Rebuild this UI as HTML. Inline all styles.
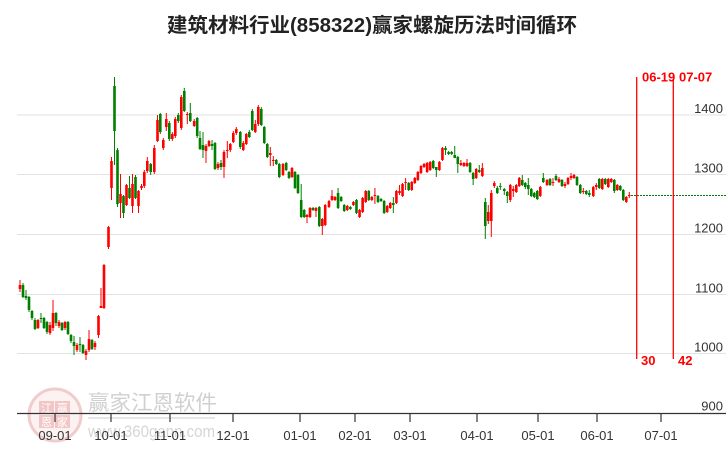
<!DOCTYPE html>
<html><head><meta charset="utf-8">
<style>
html,body{margin:0;padding:0;background:#fff;}
svg{display:block;}
text{font-family:"Liberation Sans","Noto Sans CJK SC",sans-serif;}
</style></head>
<body>
<svg id="c" width="726" height="450" viewBox="0 0 726 450" xmlns="http://www.w3.org/2000/svg">
<!-- watermark -->
<g>
<circle cx="55" cy="415" r="26" fill="#fdf2f2" stroke="#f0cccc" stroke-width="3"/>
<rect x="39" y="401" width="15" height="13" fill="#f2c6c6"/>
<rect x="55" y="401" width="15" height="13" fill="#f2c6c6"/>
<rect x="39" y="415" width="15" height="13" fill="#f2c6c6"/>
<rect x="55" y="415" width="15" height="13" fill="#f2c6c6"/>
<text x="46.5" y="412" font-size="11" fill="#fff" text-anchor="middle" style="font-family:'Noto Sans CJK SC',sans-serif">江</text>
<text x="62.5" y="412" font-size="11" fill="#fff" text-anchor="middle" style="font-family:'Noto Sans CJK SC',sans-serif">赢</text>
<text x="46.5" y="426" font-size="11" fill="#fff" text-anchor="middle" style="font-family:'Noto Sans CJK SC',sans-serif">恩</text>
<text x="62.5" y="426" font-size="11" fill="#fff" text-anchor="middle" style="font-family:'Noto Sans CJK SC',sans-serif">家</text>
<text x="88" y="410" font-size="21" fill="#d0d0d0" textLength="129" lengthAdjust="spacingAndGlyphs">赢家江恩软件</text>
<rect x="88" y="417" width="127" height="2" fill="#e6e6e6"/>
<text x="88" y="437" font-size="17" fill="#d6d6d6" textLength="127" lengthAdjust="spacingAndGlyphs">www.360gann.com</text>
</g>
<!-- grid -->
<g stroke="#e2e2e2" stroke-width="1">
<line x1="17" y1="115" x2="726" y2="115"/>
<line x1="17" y1="174.5" x2="726" y2="174.5"/>
<line x1="17" y1="234.5" x2="726" y2="234.5"/>
<line x1="17" y1="294.5" x2="726" y2="294.5"/>
<line x1="17" y1="353.5" x2="726" y2="353.5"/>
</g>
<!-- axis -->
<line x1="17" y1="413.5" x2="726" y2="413.5" stroke="#333" stroke-width="1.2"/>
<g stroke="#333" stroke-width="1.2">
<line x1="55" y1="413" x2="55" y2="422"/>
<line x1="111" y1="413" x2="111" y2="422"/>
<line x1="170" y1="413" x2="170" y2="422"/>
<line x1="233" y1="413" x2="233" y2="422"/>
<line x1="300" y1="413" x2="300" y2="422"/>
<line x1="355" y1="413" x2="355" y2="422"/>
<line x1="410" y1="413" x2="410" y2="422"/>
<line x1="477" y1="413" x2="477" y2="422"/>
<line x1="538" y1="413" x2="538" y2="422"/>
<line x1="597" y1="413" x2="597" y2="422"/>
<line x1="661" y1="413" x2="661" y2="422"/>
</g>
<g font-size="13" fill="#333" text-anchor="middle">
<text x="55" y="440">09-01</text>
<text x="111" y="440">10-01</text>
<text x="170" y="440">11-01</text>
<text x="233" y="440">12-01</text>
<text x="300" y="440">01-01</text>
<text x="355" y="440">02-01</text>
<text x="410" y="440">03-01</text>
<text x="477" y="440">04-01</text>
<text x="538" y="440">05-01</text>
<text x="597" y="440">06-01</text>
<text x="661" y="440">07-01</text>
</g>
<g font-size="13" fill="#333" text-anchor="end">
<text x="723" y="113">1400</text>
<text x="723" y="172.5">1300</text>
<text x="723" y="232.5">1200</text>
<text x="723" y="292.5">1100</text>
<text x="723" y="351.5">1000</text>
<text x="723" y="410.5">900</text>
</g>
<g id="candles"></g>
<!-- dashed last price line -->
<line x1="631" y1="195.5" x2="726" y2="195.5" stroke="#0a7a0a" stroke-width="1" stroke-dasharray="2,1"/>
<!-- red cycle lines -->
<line x1="636.7" y1="77" x2="636.7" y2="359" stroke="#f00" stroke-width="1.3"/>
<line x1="673.3" y1="80" x2="673.3" y2="359" stroke="#f00" stroke-width="1.3"/>
<g font-size="13" font-weight="bold" fill="#f00">
<text x="642" y="81.5">06-19</text>
<text x="679" y="81.5">07-07</text>
<text x="641" y="365">30</text>
<text x="678" y="365">42</text>
</g>
<!-- title -->
<text x="167" y="32" font-size="20" font-weight="bold" fill="#222" textLength="410" lengthAdjust="spacingAndGlyphs">建筑材料行业(858322)赢家螺旋历法时间循环</text>
</svg>
<script>
(function(){
var A = `20 r 285 289 280 292
23 g 285 297 283 298
26 g 296 298 290 300
29 g 297 310 296 312
32 g 311 318 310 320
35 g 320 329 318 330
38 r 320 328 319 329
41 g 318 319 313 323
44 g 318 328 317 329
47 g 322 332 321 334
50 r 325 333 322 335
53 r 313 328 300 331
56 g 313 323 312 326
59 r 322 326 320 328
62 g 323 330 322 331
65 r 322 328 321 330
68 g 322 334 321 335
71 g 335 341 334 343
74 g 342 346 336 355
77 r 345 350 343 352
80 g 344 345 337 352
83 g 345 353 344 354
86 r 351 355 349 360
89 r 339 350 330 352
92 g 340 349 339 350
95 r 343 347 341 350
98.5 r 316 335 315 338
101 r 306 308 288 308
104 r 265 308 264 309
108.5 r 227 247 226 249
111.5 r 161 188 157 200
114.5 g 86 131 77 165
117.5 g 150 204 148 207
120.5 r 194 203 174 218
123.5 g 196 213 195 218
126.5 r 185 205 184 206
129.5 g 188 198 176 199
132.5 r 184 206 174 213
135.5 g 177 198 175 199
138.5 r 191 206 190 213
141.5 r 186 188 184 190
144.3 r 172 186 170 188
147.3 r 161 171 157 173
150.7 g 164 172 163 175
154.3 r 148 172 145 174
157.5 r 120 141 115 142
160.3 g 114 132 113 134
163.3 r 140 148 138 150
166.3 r 119 127 113 131
169.3 g 123 139 121 141
172.3 r 134 139 132 141
175.3 r 119 136 117 138
178.3 g 115 121 113 123
181.3 r 97 128 95 130
184.3 g 91 111 88 112
187.3 r 114 115 112 124
190.3 g 113 121 103 122
194.2 r 121 126 119 127
197.2 g 118 136 117 138
200 g 138 149 131 150
203 g 145 150 132 158
206 r 146 151 144 163
209 r 141 146 140 147
212 g 144 146 140 150
215 g 143 169 142 170
218 r 164 168 162 170
221 g 163 167 160 170
224 r 152 167 150 178
227.3 r 150 151 141 158
230.3 r 144 150 143 152
233.3 r 133 142 131 143
236.3 r 129 133 127 135
240.3 g 132 147 131 149
243.3 r 143 150 141 151
246.3 r 134 144 133 145
249.3 g 132 137 130 138
252.3 g 111 130 109 131
255.3 r 124 132 120 133
258.3 r 107 124 105 126
261.3 g 109 125 107 126
264.3 g 127 143 126 144
267.3 g 144 157 143 158
270.3 r 153 155 147 166
273.3 r 160 161 156 166
276.3 g 160 164 159 165
279.3 g 164 177 163 178
283 r 164 175 163 176
286.2 g 163 170 162 171
289 g 172 178 171 179
292 r 168 177 167 178
295 g 172 188 171 189
298 g 175 193 174 194
301.2 g 200 217 184 218
304.2 g 210 217 209 218
307 r 215 217 214 223
310 r 208 217 207 218
313 g 208 210 207 211
316 r 208 211 207 217
319.3 g 207 226 206 227
322.3 r 219 226 218 235
325.2 r 205 225 204 226
329 r 201 207 200 208
332 r 196 200 190 201`;
var B = `r 197 200
g 193 208 188 209
g 197 201
g 205 211
r 206 210
g 207 209
r 202 205
g 200 213
r 210 217
r 198 212
r 191 202
g 191 200
r 197 200
r 195 196 188 204
g 196 202
g 199 201
g 201 213
r 206 212
r 203 208
g 203 205 197 213
r 191 203
r 191 193 185 195
r 184 196
r 182 183 178 190
g 183 190
r 182 190
r 178 183
r 172 180
r 166 173
r 164 167
r 163 172
r 162 170
g 161 168
g 167 170 167 177
r 162 170
r 148 160
g 148 150 146 155
g 152 154
g 152 154
g 155 158 146 158
g 157 164 156 173
r 163 165 160 166
r 163 166
r 163 166 159 167
g 163 172
g 173 179 172 185
r 169 178
g 170 172 165 173
r 168 176 163 177`;
var C = `485.3 g 202 226 198 239
488.3 r 212 221 205 224
491.3 r 193 221 190 237
494.3 r 183 186 181 188
497.3 g 188 193 186 194
500.3 g 186 187 183 190
504.3 g 189 191 188 195
507.3 g 192 196 191 203
510.3 r 185 200 184 202
513.3 r 189 191 186 197
516.3 r 185 192 184 193
519.3 r 178 186 177 187
522.3 g 180 185 175 186
525.3 g 183 187 182 189
528.3 g 185 189 178 195
531.3 g 189 196
534.3 g 193 197
537.3 g 191 199
540.3 r 187 196
543.3 g 178 182 173 183
547 r 180 185
550 g 179 185
553 r 182 183 178 186
556 g 176 180 174 181
559 r 179 182 177 183
562 g 180 186
565 r 184 186 182 188
568 r 178 184
571 r 176 178 173 180
574 r 175 178 174 179
577 g 177 185
580.3 g 185 193 184 194
583.3 r 191 192 188 194
586.3 g 191 194
589.3 g 193 195 190 197
593.3 r 187 196
596.3 r 185 187 183 190
599.3 g 179 188
602.3 r 179 189
605.3 g 179 184
608.3 r 179 187
611.3 r 179 182
614.3 g 180 191 179 193
617.3 r 185 190
620.3 g 186 190 185 191
623.3 g 190 200 189 201
626.3 r 197 202 196 203
629.3 r 195 196 192 198`;
var rows=[];
function parseX(s){s.trim().split('\n').forEach(function(l){var p=l.trim().split(/\s+/);rows.push([+p[0],p[1],+p[2],+p[3],p[4]!==undefined?+p[4]:null,p[5]!==undefined?+p[5]:null]);});}
parseX(A);
B.trim().split('\n').forEach(function(l,i){var p=l.trim().split(/\s+/);rows.push([335+i*3.07,p[0],+p[1],+p[2],p[3]!==undefined?+p[3]:null,p[4]!==undefined?+p[4]:null]);});
parseX(C);
var ns="http://www.w3.org/2000/svg";
var g=document.getElementById('candles');
rows.forEach(function(r){
  var x=r[0],col=r[1]==='r'?'#ff0000':'#008000',bt=r[2],bb=r[3],wt=r[4],wb=r[5];
  if(wt===null){wt=bt-1;wb=bb+1;}
  var w=document.createElementNS(ns,'rect');
  w.setAttribute('x',x-0.5);w.setAttribute('y',wt);w.setAttribute('width',1);w.setAttribute('height',Math.max(1,wb-wt));w.setAttribute('fill',col);
  g.appendChild(w);
  var b=document.createElementNS(ns,'rect');
  b.setAttribute('x',x-1.3);b.setAttribute('y',bt);b.setAttribute('width',2.6);b.setAttribute('height',Math.max(1,bb-bt));b.setAttribute('fill',col);
  g.appendChild(b);
});
})();
</script>
</body></html>
